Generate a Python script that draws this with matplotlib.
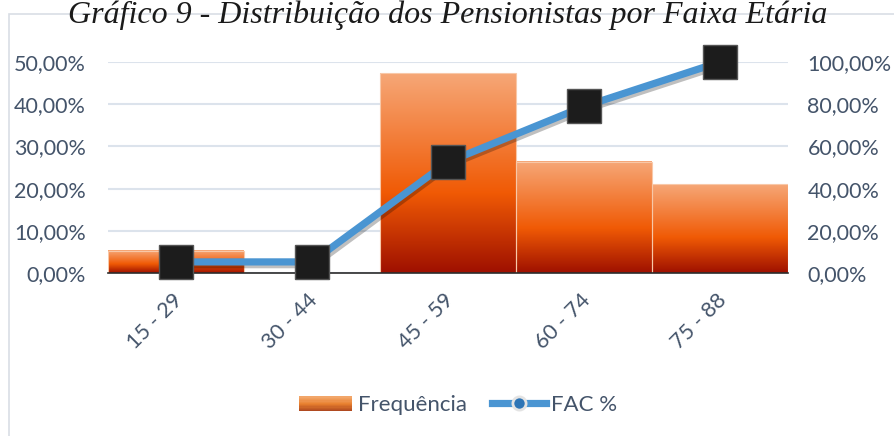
import numpy as np
import matplotlib
matplotlib.use("Agg")
import matplotlib.pyplot as plt
from matplotlib.colors import LinearSegmentedColormap
from matplotlib.patches import Rectangle
from matplotlib.lines import Line2D
from matplotlib.legend_handler import HandlerBase
import matplotlib.patheffects as pe
import matplotlib.transforms as mtransforms

# ---- data ----
categories = ["15 - 29", "30 - 44", "45 - 59", "60 - 74", "75 - 88"]
frequencia = [5.26, 0.0, 47.37, 26.32, 21.05]       # % (left axis)
fac = [5.26, 5.26, 52.63, 78.95, 100.0]             # % (right axis)
left_ticks = [0, 10, 20, 30, 40, 50]
right_ticks = [0, 20, 40, 60, 80, 100]
title = "Gráfico 9 - Distribuição dos Pensionistas por Faixa Etária"

def pct(v):
    return f"{v:.2f}%".replace(".", ",")

W, H = 895, 436
fig = plt.figure(figsize=(W / 100, H / 100), dpi=100)
fig.patch.set_facecolor("white")

txt_color = "#44546A"
font = "Lato"
tick_size = 15.5
leg_size = 16

# chart border
fig.patches.append(Rectangle((9 / W, -0.05), 1.1, (H - 14) / H + 0.05,
                             transform=fig.transFigure, fill=False,
                             edgecolor="#D9DEE5", lw=1.2, zorder=0))

fig.text(0.5, 1 - 1 / H, title, ha="center", va="top",
         fontsize=23, fontstyle="italic", family="Liberation Serif",
         color="#1a1a1a")

left, right = 108 / W, 788 / W
bottom, top = 1 - 273 / H, 1 - 62 / H
ax = fig.add_axes([left, bottom, right - left, top - bottom])
ax2 = ax.twinx()
ax.set_zorder(1)
ax2.set_zorder(2)
ax.patch.set_visible(False)
ax2.patch.set_visible(False)

x = np.arange(len(categories))
cmap = LinearSegmentedColormap.from_list(
    "bar", [(0.0, "#9E1000"), (0.4, "#F05A05"), (1.0, "#F6A777")])
grad = np.linspace(0, 1, 256).reshape(-1, 1)
for xi, h in zip(x, frequencia):
    if h <= 0:
        continue
    ax.imshow(grad, extent=[xi - 0.5, xi + 0.5, 0, h], origin="lower",
              cmap=cmap, aspect="auto", zorder=2, interpolation="bilinear")
    ax.add_patch(Rectangle((xi - 0.5, 0), 1, h, fill=False,
                           edgecolor="#F8C8A8", lw=0.8, zorder=3))

ax.set_xlim(-0.5, len(categories) - 0.5)
ax.set_ylim(0, 50)
ax.set_yticks(left_ticks)
ax.set_yticklabels([pct(v) for v in left_ticks])
ax.yaxis.grid(True, color="#DCE3EC", lw=1.5, zorder=0)
ax.set_axisbelow(True)
for s in ["left", "right", "top"]:
    ax.spines[s].set_visible(False)
ax.spines["bottom"].set_color("#2b2b2b")
ax.spines["bottom"].set_linewidth(1.2)
ax.spines["bottom"].set_zorder(4)
ax.tick_params(axis="y", length=0, pad=16, labelsize=tick_size, labelcolor=txt_color)
ax.tick_params(axis="x", length=0, pad=12, labelsize=tick_size, labelcolor=txt_color)
ax.set_xticks(x)
ax.set_xticklabels(categories, rotation=45, ha="right", va="top",
                   rotation_mode="anchor")
offset = mtransforms.ScaledTranslation(-3 / 72, 0, fig.dpi_scale_trans)
for lab in ax.get_xticklabels() + ax.get_yticklabels():
    lab.set_family(font)
for lab in ax.get_xticklabels():
    lab.set_transform(lab.get_transform() + offset)

ax2.set_ylim(0, 100)
ax2.set_yticks(right_ticks)
ax2.set_yticklabels([pct(v) for v in right_ticks])
for s in ["left", "right", "top", "bottom"]:
    ax2.spines[s].set_visible(False)
ax2.tick_params(axis="y", length=0, pad=14, labelsize=tick_size, labelcolor=txt_color)
for lab in ax2.get_yticklabels():
    lab.set_family(font)

ax2.plot(x, fac, color="#4A95D2", lw=5.2, solid_capstyle="butt", zorder=5,
         clip_on=False,
         path_effects=[pe.SimpleLineShadow(offset=(1.5, -2), alpha=0.25),
                       pe.Normal()])
ax2.plot(x, fac, ls="none", marker="s", ms=24, mfc="#1c1c1c",
         mec="#555555", mew=1, zorder=6, clip_on=False)


class GradHandler(HandlerBase):
    def create_artists(self, legend, orig, xd, yd, width, height, fontsize, trans):
        arts = []
        n = 12
        cm = LinearSegmentedColormap.from_list(
            "leg", [(0.0, "#B04A20"), (0.5, "#E8802E"), (1.0, "#F2A66A")])
        for i in range(n):
            r = Rectangle((xd, yd + height * i / n), width, height / n + 0.3,
                          facecolor=cm(i / (n - 1)), edgecolor="none",
                          transform=trans)
            arts.append(r)
        return arts


bar_handle = Rectangle((0, 0), 1, 1)
line_handle = Line2D([0], [0], color="#4A95D2", lw=5.2, marker="o", ms=9.5,
                     mfc="#2E75B6", mec="#E3E3E3", mew=2)
leg = fig.legend([bar_handle, line_handle], ["Frequência", "FAC %"],
                 handler_map={Rectangle: GradHandler()},
                 loc="center", bbox_to_anchor=(458 / W, 1 - 405 / H), ncol=2,
                 frameon=False, prop={"family": font, "size": leg_size},
                 handlelength=2.4, handleheight=0.65, columnspacing=1.15,
                 handletextpad=0.25)
for t in leg.get_texts():
    t.set_color(txt_color)

fig.savefig("out.png", dpi=100, facecolor="white")
